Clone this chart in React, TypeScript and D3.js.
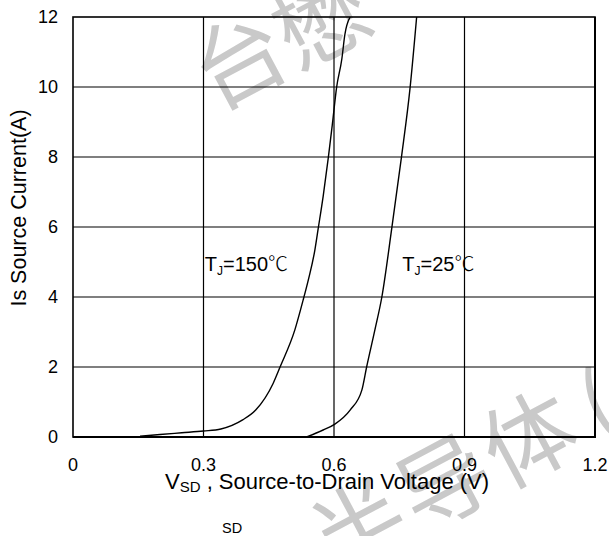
import React from "react";
import * as d3 from "d3";

const xTicks = [0, 0.3, 0.6, 0.9, 1.2];
const xTickLabels = ["0", "0.3", "0.6", "0.9", "1.2"];
const yTicks = [0, 2, 4, 6, 8, 10, 12];
const yTickLabels = ["0", "2", "4", "6", "8", "10", "12"];

const v150 = [0.154, 0.2, 0.25, 0.3, 0.34, 0.39, 0.42, 0.46, 0.476, 0.51, 0.529, 0.541, 0.556, 0.564, 0.575, 0.587, 0.596, 0.606, 0.618, 0.625, 0.637];
const i150 = [0.02, 0.07, 0.12, 0.17, 0.23, 0.49, 0.77, 1.53, 2.0, 3.06, 3.91, 4.49, 5.34, 5.98, 6.87, 7.99, 8.91, 9.99, 10.8, 11.5, 12.0];
const v25 = [0.537, 0.575, 0.602, 0.637, 0.664, 0.675, 0.694, 0.71, 0.733, 0.755, 0.775, 0.79];
const i25 = [0.0, 0.2, 0.37, 0.77, 1.34, 2.0, 3.06, 4.0, 5.98, 7.99, 9.99, 12.0];

const curveLabels = [
  { v: 0.303, i: 4.75, main: "T", sub: "J", rest: "=150", unit: "℃" },
  { v: 0.757, i: 4.75, main: "T", sub: "J", rest: "=25", unit: "℃" },
];

const watermarkTop = ["台", "懋"];
const watermarkBottom = ["半", "导", "体", "("];

const FONT = "'Liberation Sans', Arial, Helvetica, sans-serif";

export default function App() {
  const W = 609, H = 536;
  const x = d3.scaleLinear().domain([0, 1.2]).range([73, 595]);
  const y = d3.scaleLinear().domain([0, 12]).range([437, 17]);
  const line = d3
    .line<[number, number]>()
    .x((d) => x(d[0]))
    .y((d) => y(d[1]))
    .curve(d3.curveMonotoneX);
  const d150 = line(v150.map((v, k) => [v, i150[k]] as [number, number])) || "";
  const d25 = line(v25.map((v, k) => [v, i25[k]] as [number, number])) || "";

  const wmTopPos = [
    [240, 62],
    [322, 22],
  ];
  const wmBotPos = [
    [360, 528],
    [445, 484],
    [530, 440],
    [600, 408],
  ];

  return (
    <svg
      width={W}
      height={H}
      viewBox={`0 0 ${W} ${H}`}
      style={{ position: "absolute", left: 0, top: 0, background: "#fff" }}
    >
      <rect x={0} y={0} width={W} height={H} fill="#fff" />
      {/* watermark */}
      <g fill="#c9c9c9" fontFamily="'Noto Sans CJK SC', sans-serif" fontSize={92}>
        {watermarkTop.map((c, k) => (
          <text
            key={"wt" + k}
            transform={`translate(${wmTopPos[k][0]},${wmTopPos[k][1]}) rotate(-28)`}
            textAnchor="middle"
            dy="0.35em"
          >
            {c}
          </text>
        ))}
        {watermarkBottom.map((c, k) => (
          <text
            key={"wb" + k}
            transform={`translate(${wmBotPos[k][0]},${wmBotPos[k][1]}) rotate(-28)`}
            textAnchor="middle"
            dy="0.35em"
          >
            {c}
          </text>
        ))}
      </g>
      <defs>
        <clipPath id="plotclip">
          <rect x={x(0)} y={y(12)} width={x(1.2) - x(0)} height={y(0) - y(12)} />
        </clipPath>
      </defs>
      {/* grid */}
      <g stroke="#000" strokeWidth={1.2}>
        {xTicks.slice(1, -1).map((t) => (
          <line key={"gx" + t} x1={x(t)} x2={x(t)} y1={y(0)} y2={y(12)} />
        ))}
        {yTicks.slice(1, -1).map((t) => (
          <line key={"gy" + t} x1={x(0)} x2={x(1.2)} y1={y(t)} y2={y(t)} />
        ))}
      </g>
      <rect
        x={x(0)}
        y={y(12)}
        width={x(1.2) - x(0)}
        height={y(0) - y(12)}
        fill="none"
        stroke="#000"
        strokeWidth={1.6}
      />
      <line x1={x(0)} x2={x(1.2) + 1} y1={y(0)} y2={y(0)} stroke="#000" strokeWidth={2} />
      <line x1={x(1.2)} x2={x(1.2)} y1={y(12)} y2={y(0)} stroke="#000" strokeWidth={2} />
      {/* curves */}
      <g clipPath="url(#plotclip)" fill="none" stroke="#000" strokeWidth={1.4}>
        <path d={d150} />
        <path d={d25} />
      </g>
      {/* tick labels */}
      <g fontFamily={FONT} fontSize={18} fill="#000">
        {yTicks.map((t, k) => (
          <text key={"yl" + t} x={58} y={y(t)} dy="0.36em" textAnchor="end">
            {yTickLabels[k]}
          </text>
        ))}
        {xTicks.map((t, k) => (
          <text key={"xl" + t} x={x(t)} y={471} textAnchor="middle">
            {xTickLabels[k]}
          </text>
        ))}
      </g>
      {/* curve labels */}
      <g fontFamily={FONT} fill="#000">
        {curveLabels.map((c, k) => (
          <text key={"cl" + k} x={x(c.v)} y={y(c.i)} fontSize={20}>
            {c.main}
            <tspan fontSize={12} dy={4}>{c.sub}</tspan>
            <tspan dy={-4}>{c.rest}</tspan>
            <tspan fontFamily="'Noto Sans CJK SC', sans-serif" fontWeight={300} fontSize={20}>{c.unit}</tspan>
          </text>
        ))}
      </g>
      {/* axis titles */}
      <text x={165} y={489} fontFamily={FONT} fontSize={22} fill="#000">
        V<tspan fontSize={15} dy={3}>SD</tspan>
        <tspan dy={-3}> , Source-to-Drain Voltage (V)</tspan>
      </text>
      <text
        transform={`translate(26,208) rotate(-90)`}
        textAnchor="middle"
        fontFamily={FONT}
        fontSize={21.5}
        fill="#000"
      >
        Is Source Current(A)
      </text>
      <text x={222} y={533} fontFamily={FONT} fontSize={14.5} fill="#000">
        SD
      </text>
    </svg>
  );
}
